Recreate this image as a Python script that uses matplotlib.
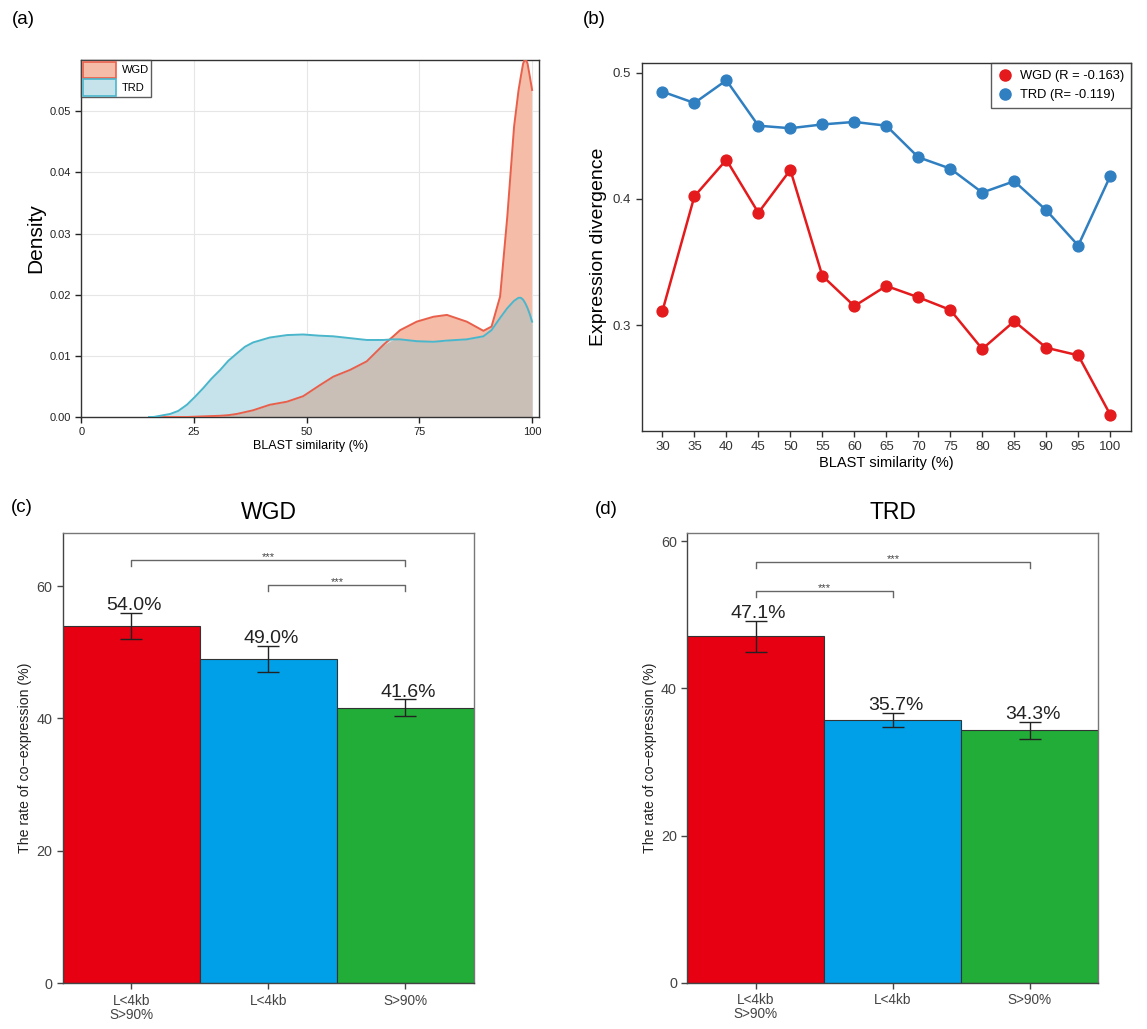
import matplotlib
matplotlib.use("Agg")
import matplotlib.pyplot as plt
import numpy as np
from matplotlib.patches import Patch
from matplotlib.lines import Line2D

plt.rcParams['font.family'] = ['Liberation Sans', 'DejaVu Sans']

# ---------------- data ----------------
# (a) density curves (common x grid)
dens_x = [15, 16, 19.7, 21.5, 23.4, 25.2, 27, 28.9, 30.8, 32.6, 34.5, 36.3, 38.1,
          41.8, 45.6, 49.2, 52.9, 55.9, 59.6, 63.3, 67, 69.2, 70.7, 74.4, 78.1,
          81.1, 85.5, 89.2, 91, 92.9, 94.5, 96, 97, 97.5, 98, 98.5, 99, 99.5, 100]
dens_wgd = [0.0, 0.0, 0.0, 0.0, 0.0, 0.00005, 0.0001, 0.00015, 0.0002, 0.0003,
            0.0005, 0.0008, 0.0011, 0.0020, 0.0025, 0.0034, 0.0052, 0.0066, 0.0077,
            0.0091, 0.0118, 0.0132, 0.0142, 0.0156, 0.0164, 0.0167, 0.0156, 0.0141,
            0.0148, 0.0197, 0.0328, 0.0475, 0.0535, 0.0557, 0.0578, 0.0587, 0.0578,
            0.0557, 0.0535]
dens_trd = [0.0, 0.0, 0.0005, 0.0010, 0.0020, 0.0033, 0.0047, 0.0063, 0.0077, 0.0092,
            0.0104, 0.0115, 0.0122, 0.0130, 0.0134, 0.0135, 0.0133, 0.0132, 0.0129,
            0.0126, 0.0126, 0.0127, 0.0127, 0.0124, 0.0123, 0.0125, 0.0127, 0.0132,
            0.0142, 0.0162, 0.0178, 0.0190, 0.0195, 0.0195, 0.0192, 0.0186, 0.0178,
            0.0168, 0.0156]

# (b) expression divergence
sim_bins = ["30", "35", "40", "45", "50", "55", "60", "65", "70", "75", "80", "85",
            "90", "95", "100"]
div_wgd = [0.311, 0.402, 0.431, 0.389, 0.423, 0.339, 0.315, 0.331, 0.322, 0.312,
           0.281, 0.303, 0.282, 0.276, 0.229]
div_trd = [0.485, 0.476, 0.494, 0.458, 0.456, 0.459, 0.461, 0.458, 0.433, 0.424,
           0.405, 0.414, 0.391, 0.363, 0.418]
legend_b = ["WGD (R = -0.163)", "TRD (R= -0.119)"]

# (c), (d) co-expression rates
bar_cats = ["L<4kb\nS>90%", "L<4kb", "S>90%"]
wgd_rate = [54.0, 49.0, 41.6]
wgd_err = [2.0, 2.0, 1.3]
trd_rate = [47.1, 35.7, 34.3]
trd_err = [2.1, 1.0, 1.2]
# significance brackets: (from index, to index, y level)
wgd_sig = [(0, 2, 64.0), (1, 2, 60.2)]
trd_sig = [(0, 2, 57.2), (0, 1, 53.2)]

bar_colors = ['#e60012', '#00a0e9', '#22ac38']

# ---------------- layout ----------------
W, H = 1147, 1029
fig = plt.figure(figsize=(W / 100, H / 100), dpi=100)


def rect(l, t, r, b):
    return [l / W, 1 - b / H, (r - l) / W, (b - t) / H]


# ---------------- (a) ----------------
axa = fig.add_axes(rect(81.4, 60, 539.3, 417))
x = np.array(dens_x)
yw = np.array(dens_wgd)
yt = np.array(dens_trd)
ymin = np.minimum(yw, yt)
red_fill = '#f5bca7'
blue_fill = '#c6e3ec'
over_fill = '#c9bfb7'
red_line = '#e8604c'
blue_line = '#4ab6cb'
axa.fill_between(x, 0, ymin, color=over_fill, lw=0, zorder=2)
axa.fill_between(x, ymin, yw, where=yw >= yt, interpolate=True, color=red_fill, lw=0, zorder=2)
axa.fill_between(x, ymin, yt, where=yt >= yw, interpolate=True, color=blue_fill, lw=0, zorder=2)
axa.plot(x, yw, color=red_line, lw=1.4, zorder=3, solid_joinstyle='round')
axa.plot(x, yt, color=blue_line, lw=1.4, zorder=3, solid_joinstyle='round')
axa.set_xlim(0, 101.6)
axa.set_ylim(0, 0.0584)
axa.set_xticks([0, 25, 50, 75, 100])
axa.set_yticks([0.0, 0.01, 0.02, 0.03, 0.04, 0.05])
axa.set_yticklabels(["0.00", "0.01", "0.02", "0.03", "0.04", "0.05"])
axa.grid(True, color='#e6e6e6', lw=0.8, zorder=0)
axa.set_axisbelow(True)
axa.tick_params(axis='both', direction='out', length=4, width=1, labelsize=8,
                colors='#222222')
for s in axa.spines.values():
    s.set_color('#333333')
    s.set_linewidth(1.0)
axa.set_ylabel("Density", fontsize=15, labelpad=3)
axa.set_xlabel("BLAST similarity (%)", fontsize=9, labelpad=2)
handles_a = [Patch(facecolor=red_fill, edgecolor=red_line, lw=1.2, label="WGD"),
             Patch(facecolor=blue_fill, edgecolor=blue_line, lw=1.2, label="TRD")]
lg = axa.legend(handles=handles_a, loc='upper left', fontsize=8, frameon=True,
                fancybox=False, borderaxespad=0, handlelength=3.0, handleheight=1.9,
                borderpad=0.15, labelspacing=0.1, handletextpad=0.5)
lg.get_frame().set_edgecolor('#333333')
lg.get_frame().set_linewidth(1.0)

# ---------------- (b) ----------------
axb = fig.add_axes(rect(641.6, 63, 1131, 431))
pos = np.arange(1, len(sim_bins) + 1)
c_red = '#e41a1c'
c_blue = '#2f7fc1'
axb.plot(pos, div_wgd, '-o', color=c_red, lw=1.8, ms=7.8, label=legend_b[0])
axb.plot(pos, div_trd, '-o', color=c_blue, lw=1.8, ms=7.8, label=legend_b[1])
axb.set_xlim(0.35, len(sim_bins) + 0.65)
axb.set_ylim(0.216, 0.5077)
axb.set_xticks(pos)
axb.set_xticklabels(sim_bins)
axb.set_yticks([0.3, 0.4, 0.5])
axb.tick_params(axis='both', direction='out', length=4, width=1, labelsize=9.5,
                colors='#333333')
for s in axb.spines.values():
    s.set_color('#333333')
    s.set_linewidth(1.0)
axb.set_ylabel("Expression divergence", fontsize=14, labelpad=4)
axb.set_xlabel("BLAST similarity (%)", fontsize=10.5, labelpad=2)
handles_b = [Line2D([], [], marker='o', ls='none', color=c_red, ms=8, label=legend_b[0]),
             Line2D([], [], marker='o', ls='none', color=c_blue, ms=8, label=legend_b[1])]
lgb = axb.legend(handles=handles_b, loc='upper right', fontsize=9.3, frameon=True,
                 fancybox=False, borderaxespad=0, handlelength=1.2, borderpad=0.55,
                 labelspacing=0.55, handletextpad=0.5)
lgb.get_frame().set_edgecolor('#333333')
lgb.get_frame().set_linewidth(1.0)


# ---------------- (c), (d) ----------------
def bar_panel(ax, rates, errs, sig, ylim, title, px_height):
    upp = ylim / px_height  # data units per pixel
    xs = np.arange(1, len(bar_cats) + 1)
    ax.bar(xs, rates, width=1.0, color=bar_colors, edgecolor='#333333', lw=0.8, zorder=2)
    ax.errorbar(xs, rates, yerr=errs, fmt='none', ecolor='#222222', elinewidth=1.0,
                capsize=7.7, capthick=1.0, zorder=3)
    for xi, r, e in zip(xs, rates, errs):
        ax.text(xi + 0.02, r + e + 2.5 * upp, f"{r:.1f}%", ha='center', va='baseline',
                fontsize=14, color='#222222')
    for i, j, y in sig:
        xi, xj = xs[i], xs[j]
        tip = 6 * upp
        ax.plot([xi, xi, xj, xj], [y - tip, y, y, y - tip], color='#666666', lw=1.0,
                zorder=3)
        ax.text((xi + xj) / 2, y, "***", ha='center', va='baseline',
                fontsize=8, color='#444444')
    ax.set_xlim(0.5, len(bar_cats) + 0.5)
    ax.set_ylim(0, ylim)
    ax.set_xticks(xs)
    ax.set_xticklabels(bar_cats, linespacing=1.0)
    ax.set_yticks([0, 20, 40, 60])
    ax.tick_params(axis='x', direction='out', length=4, width=1, labelsize=9.8,
                   colors='#444444')
    ax.tick_params(axis='y', direction='out', length=4, width=1, labelsize=10.4,
                   colors='#444444')
    for s in ax.spines.values():
        s.set_color('#777777')
        s.set_linewidth(1.0)
    ax.spines['bottom'].set_color('#444444')
    ax.spines['left'].set_color('#444444')
    ax.set_ylabel("The rate of co\u2212expression (%)", fontsize=10.2, color='#222222',
                  labelpad=3)
    ax.set_title(title, fontsize=16.5, pad=10)


axc = fig.add_axes(rect(62.9, 533.2, 474, 983.1))
bar_panel(axc, wgd_rate, wgd_err, wgd_sig, 68.0, "WGD", 983.1 - 533.2)
axd = fig.add_axes(rect(687.3, 533.2, 1098.4, 982.8))
bar_panel(axd, trd_rate, trd_err, trd_sig, 61.1, "TRD", 982.8 - 533.2)

# panel letters
for lab, px, py in [("(a)", 23, 20), ("(b)", 594, 20), ("(c)", 22, 508), ("(d)", 606, 509)]:
    fig.text(px / W, 1 - py / H, lab, ha='center', va='center', fontsize=13.5)

fig.savefig("out.png", dpi=100)
